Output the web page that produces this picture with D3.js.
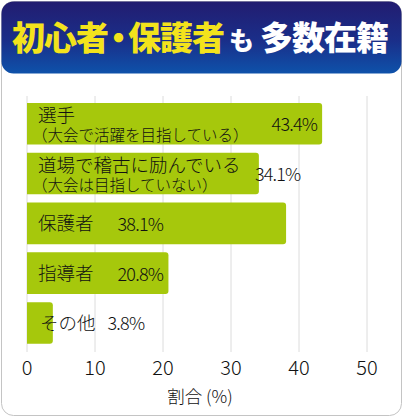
<!DOCTYPE html>
<html>
<head>
<meta charset="utf-8">
<script src="https://cdn.jsdelivr.net/npm/d3@7"></script>
<style>
  html, body { margin: 0; padding: 0; background: #fff; }
  svg { display: block; }
  text { font-family: "Noto Sans CJK JP", "Noto Sans", sans-serif; }
</style>
</head>
<body>
<div id="chart"></div>
<script>
"use strict";

/*** Data */
const categories = ["選手", "道場で稽古に励んでいる", "保護者", "指導者", "その他"];
const subLabels = ["（大会で活躍を目指している）", "（大会は目指していない）", "", "", ""];
const shares = [43.4, 34.1, 38.1, 20.8, 3.8];
const xTicks = [0, 10, 20, 30, 40, 50];
const axisTitle = "割合 (%)";
const titleYellow = ["初心者", "・", "保護者"];
const titleWhiteSmall = "も";
const titleWhite = "多数在籍";

/** Dimensions */
const w = 404;
const h = 417;
const barColor = "#a6c80c";

/* where each value label goes: inside bar end, at bar end, or after the name */
const valuePlace = ["inside", "edge", "after", "after", "after"];
const afterGap = [0, 0, 24, 24, 12];

const svg = d3.select("#chart")
    .append("svg")
    .attr("width", w)
    .attr("height", h);

/** Frame and header */
const defs = svg.append("defs");
const grad = defs.append("linearGradient")
    .attr("id", "head")
    .attr("x1", 0).attr("y1", 0).attr("x2", 0).attr("y2", 1);
grad.append("stop").attr("offset", "0%").attr("stop-color", "#221c70");
grad.append("stop").attr("offset", "55%").attr("stop-color", "#1a2f8a");
grad.append("stop").attr("offset", "100%").attr("stop-color", "#0e52aa");

svg.append("rect")
    .attr("x", 1.5).attr("y", 1.5)
    .attr("width", 400).attr("height", 414)
    .attr("rx", 12)
    .attr("fill", "#fff")
    .attr("stroke", "#c4c4c4");

svg.append("rect")
    .attr("x", 1.5).attr("y", 1.5)
    .attr("width", 400).attr("height", 72)
    .attr("rx", 12)
    .attr("fill", "url(#head)");

const title = svg.append("text")
    .attr("x", 12)
    .attr("y", 50)
    .attr("font-weight", 900)
    .attr("font-size", 33)
    .attr("letter-spacing", -1);
title.append("tspan").attr("fill", "#f3e31c").text(titleYellow[0]);
title.append("tspan").attr("fill", "#f3e31c").attr("dx", -6).text(titleYellow[1]);
title.append("tspan").attr("fill", "#f3e31c").attr("dx", -6).text(titleYellow[2]);
title.append("tspan").attr("fill", "#fff").attr("font-size", 25).attr("dx", 5).text(titleWhiteSmall);
title.append("tspan").attr("fill", "#fff").attr("dx", 7).text(titleWhite);

/** Scales */
const x = d3.scaleLinear().domain([0, 50]).range([27, 367]);
const y = d3.scaleBand()
    .domain(categories)
    .range([98, 348.7])
    .paddingInner(0.165)
    .paddingOuter(0.1);

/** Grid */
svg.append("g")
    .selectAll("line")
    .data(xTicks)
    .enter()
    .append("line")
    .attr("x1", d => x(d)).attr("x2", d => x(d))
    .attr("y1", 96).attr("y2", 352)
    .attr("stroke", "#dcdcdc")
    .attr("stroke-width", 1);

/** Bars, rounded on the right side */
const r = 3;
svg.append("g")
    .selectAll("path")
    .data(categories)
    .enter()
    .append("path")
    .attr("d", (d, i) => {
        const x0 = x(0), x1 = x(shares[i]), y0 = y(d), y1 = y(d) + y.bandwidth();
        return `M${x0},${y0}H${x1 - r}Q${x1},${y0} ${x1},${y0 + r}V${y1 - r}Q${x1},${y1} ${x1 - r},${y1}H${x0}Z`;
    })
    .attr("fill", barColor);

/** Labels */
const labels = svg.append("g").attr("fill", "#111");
categories.forEach((c, i) => {
    const top = y(c);
    const mid = top + y.bandwidth() / 2;
    let nameEnd;
    if (subLabels[i]) {
        const t = labels.append("text")
            .attr("x", 38).attr("y", top + 19.5)
            .attr("font-size", 18.5).attr("font-weight", 300)
            .text(c);
        nameEnd = 38 + t.node().getComputedTextLength();
        labels.append("text")
            .attr("x", 32).attr("y", top + 38.5)
            .attr("font-size", 15.5).attr("font-weight", 300)
            .text(subLabels[i]);
    } else {
        const nx = i === categories.length - 1 ? 40 : 38;
        const t = labels.append("text")
            .attr("x", nx).attr("y", mid + 7)
            .attr("font-size", 18.5).attr("font-weight", 300)
            .text(c);
        nameEnd = nx + t.node().getComputedTextLength();
    }

    const v = labels.append("text")
        .attr("y", mid + 7.5)
        .attr("font-size", 18).attr("font-weight", 300)
        .attr("letter-spacing", -0.8)
        .text(shares[i].toFixed(1) + "%");
    if (valuePlace[i] === "inside") {
        v.attr("x", x(shares[i]) - 5).attr("text-anchor", "end");
    } else if (valuePlace[i] === "edge") {
        v.attr("x", x(shares[i]) - 4);
    } else {
        v.attr("x", nameEnd + afterGap[i]);
    }
});

/** X axis ticks and title */
svg.append("g")
    .selectAll("text")
    .data(xTicks)
    .enter()
    .append("text")
    .attr("x", d => x(d))
    .attr("y", 375)
    .attr("text-anchor", "middle")
    .attr("font-size", 20)
    .attr("font-weight", 300)
    .attr("fill", "#111")
    .text(d => d);

svg.append("text")
    .attr("x", 200)
    .attr("y", 403)
    .attr("text-anchor", "middle")
    .attr("font-size", 17.5)
    .attr("font-weight", 300)
    .attr("fill", "#111")
    .text(axisTitle);
</script>
</body>
</html>
